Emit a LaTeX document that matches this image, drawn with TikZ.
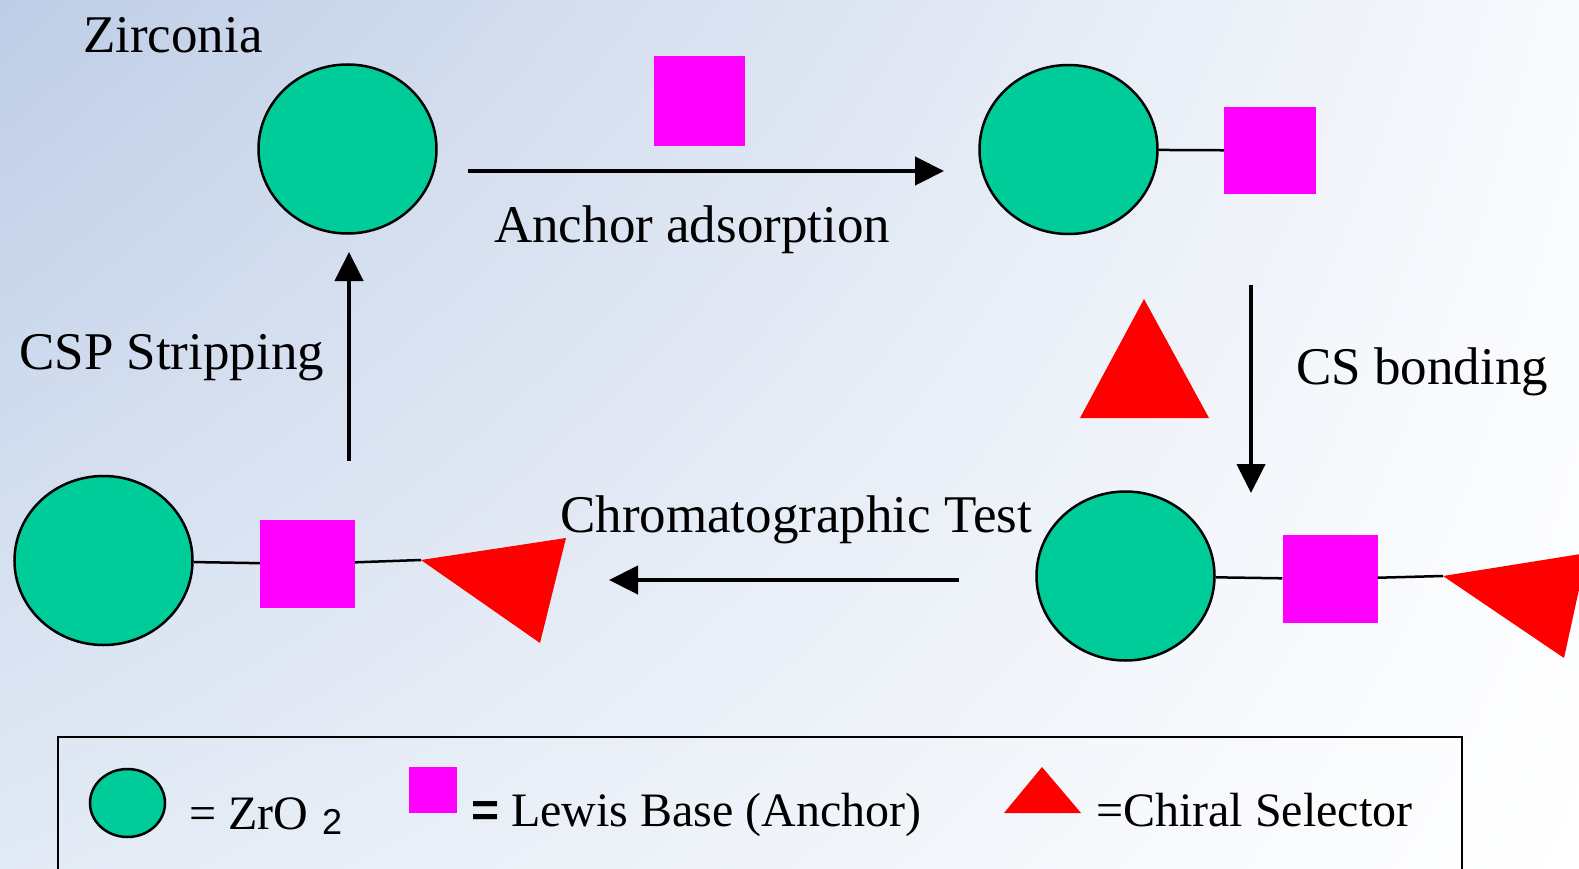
\documentclass[tikz,border=0pt]{standalone}
\usepackage{fontspec}
\setmainfont{Liberation Serif}
\setsansfont{Liberation Sans}
\usetikzlibrary{shapes.geometric,arrows.meta,shadings}
\definecolor{zgreen}{RGB}{0,204,153}
\definecolor{lbmag}{RGB}{255,0,255}
\definecolor{csred}{RGB}{255,0,0}
\definecolor{bgtl}{RGB}{190,205,230}
\definecolor{bgbl}{RGB}{226,234,245}
\definecolor{bgtr}{RGB}{248,250,253}
\begin{document}
\begin{tikzpicture}[x=1pt,y=-1pt,
  zro/.style={ellipse, draw=black, line width=2.5pt, fill=zgreen, minimum width=178pt, minimum height=169pt, inner sep=0pt},
  lbase/.style={rectangle, fill=lbmag, inner sep=0pt},
  sel/.style={fill=csred},
  bond/.style={draw=black, line width=2.5pt},
  step arrow/.style={draw=black, line width=4.5pt, -{Triangle[length=29pt,width=28pt]}},
  lbl/.style={anchor=base west, inner sep=0pt, font=\fontsize{53}{60}\selectfont},
  leg/.style={anchor=base west, inner sep=0pt, font=\fontsize{48}{54}\selectfont}]
\useasboundingbox (0,0) rectangle (1579,869);
\clip (0,0) rectangle (1579,869);
\shade[upper left=bgtl, upper right=bgtr, lower left=bgbl, lower right=white] (0,0) rectangle (1579,869);

% legend frame
\draw[line width=2.5pt] (58,875) -- (58,737) -- (1462,737) -- (1462,875);

% top left
\node[zro] (c1) at (347.5,149) {};
\node[lbl] (tzr) at (83,53) {Zirconia};

% anchor adsorption
\node[lbase, minimum width=91pt, minimum height=90pt] (s1) at (699.5,101) {};
\coordinate (a1s) at (468,171);
\coordinate (a1e) at (944,171);
\draw[step arrow] (a1s) -- (a1e);
\node[lbl] (tanc) at (494,243) {Anchor adsorption};

% top right
\node[zro] (c2) at (1068.5,149.5) {};
\node[lbase, minimum width=92pt, minimum height=87pt] (s2) at (1270,150.5) {};
\draw[bond] (c2) -- (s2);

% CS bonding
\coordinate (a2s) at (1251,285);
\coordinate (a2e) at (1251,493);
\draw[step arrow] (a2s) -- (a2e);
\coordinate (t1a) at (1080,418);
\coordinate (t1b) at (1209,418);
\coordinate (t1c) at (1144,299);
\fill[sel] (t1a) -- (t1b) -- (t1c) -- cycle;
\node[lbl] (tcs) at (1296,384) {CS bonding};

% bottom right
\node[zro] (c3) at (1125.5,576) {};
\node[lbase, minimum width=95pt, minimum height=88pt] (s3) at (1330,579) {};
\coordinate (t3tip) at (1443,576);
\coordinate (t3b) at (1587,553);
\coordinate (t3c) at (1564,658);
\draw[bond] (c3) -- (s3);
\draw[bond] (s3) -- (t3tip);
\fill[sel] (t3tip) -- (t3b) -- (t3c) -- cycle;

% chromatographic test
\coordinate (a3s) at (959,580);
\coordinate (a3e) at (609,580);
\draw[step arrow] (a3s) -- (a3e);
\node[lbl] (tchr) at (560,532) {Chromatographic Test};

% bottom left
\node[zro] (c4) at (103.5,560.5) {};
\node[lbase, minimum width=95pt, minimum height=88pt] (s4) at (307.5,564) {};
\coordinate (t2tip) at (421,560);
\coordinate (t2b) at (566,538);
\coordinate (t2c) at (540,643);
\draw[bond] (c4) -- (s4);
\draw[bond] (s4) -- (t2tip);
\fill[sel] (t2tip) -- (t2b) -- (t2c) -- cycle;

% CSP stripping
\coordinate (a4s) at (349,461);
\coordinate (a4e) at (349,252);
\draw[step arrow] (a4s) -- (a4e);
\node[lbl] (tcsp) at (19,369) {CSP Stripping};

% legend
\node[ellipse, draw=black, line width=2.5pt, fill=zgreen, minimum width=75pt, minimum height=68pt, inner sep=0pt] (lc) at (127.5,803) {};
\node[leg] (lzr) at (189,829) {= ZrO\hspace{14pt}\raisebox{-5pt}{\fontsize{36}{40}\selectfont\sffamily 2}};
\node[lbase, minimum width=48pt, minimum height=46pt] (ls) at (433,790) {};
\node[leg] (llb) at (471,826) {{\sffamily\bfseries =} Lewis Base (Anchor)};
\coordinate (lta) at (1004,813);
\coordinate (ltb) at (1081,813);
\coordinate (ltc) at (1042,767);
\fill[sel] (lta) -- (ltb) -- (ltc) -- cycle;
\node[leg] (lcs) at (1096,826) {=Chiral Selector};
\end{tikzpicture}
\end{document}
